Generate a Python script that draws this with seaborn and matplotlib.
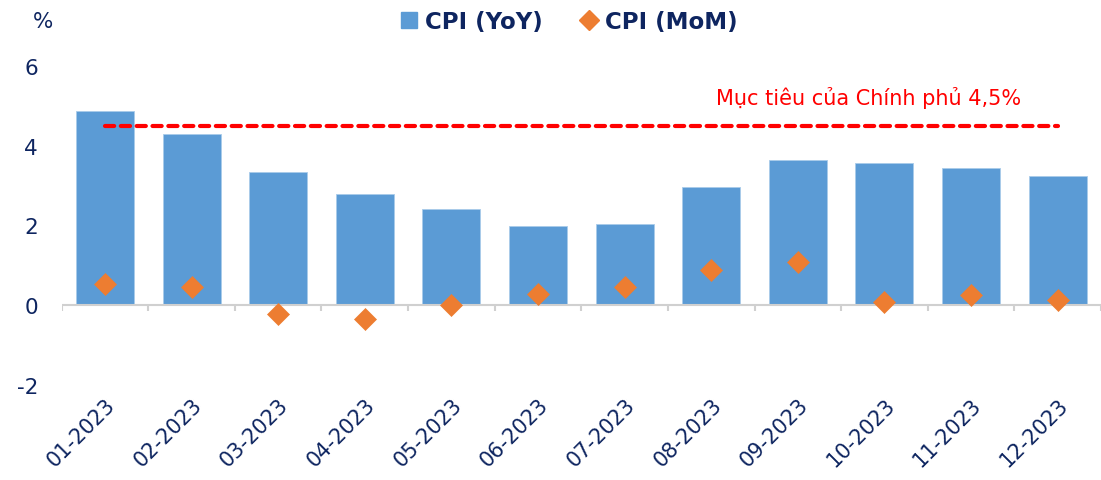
import numpy as np
import pandas as pd
import matplotlib
matplotlib.use("Agg")
import matplotlib.pyplot as plt
from matplotlib.lines import Line2D
import seaborn as sns

# data
months = ["01-2023", "02-2023", "03-2023", "04-2023", "05-2023", "06-2023",
          "07-2023", "08-2023", "09-2023", "10-2023", "11-2023", "12-2023"]
cpi_yoy = [4.87, 4.29, 3.33, 2.79, 2.41, 1.99, 2.04, 2.95, 3.64, 3.57, 3.43, 3.23]
cpi_mom = [0.52, 0.45, -0.23, -0.34, 0.01, 0.27, 0.45, 0.88, 1.08, 0.08, 0.25, 0.13]
target = 4.5
target_label = "Mục tiêu của Chính phủ 4,5%"

navy = "#0E2560"
blue = "#5B9BD5"
orange = "#ED7D31"

sns.set_style("white")
plt.rcParams["font.family"] = ["DejaVu Sans"]
plt.rcParams["axes.unicode_minus"] = False

df = pd.DataFrame({"month": months, "yoy": cpi_yoy, "mom": cpi_mom})

fig = plt.figure(figsize=(11.01, 4.81), dpi=100)
ax = fig.add_axes([0.056, 0.198, 0.944, 0.663])

sns.barplot(data=df, x="month", y="yoy", color=blue, saturation=1,
            width=0.67, edgecolor="#A9CBEA", linewidth=0.6, ax=ax)
sns.scatterplot(data=df, x="month", y="mom", marker="D", s=125,
                color=orange, edgecolor=orange, linewidth=0.5, zorder=5, ax=ax)

# target line from first to last month
ax.plot([0, len(months) - 1], [target, target], color="#FF0000", lw=3,
        linestyle=(0, (2.2, 1.6)), dash_capstyle="round", zorder=4)
ax.text(7.05, 5.22, target_label, color="#FF0000", fontsize=15,
        ha="left", va="center")

# zero axis line with category boundary ticks
ax.axhline(0, color="#D0D0D0", lw=1.5, zorder=1)
ax.vlines(np.arange(-0.5, len(months)), -0.15, 0, color="#D0D0D0", lw=1.5)

ax.set_xlim(-0.5, len(months) - 0.5)
ax.set_ylim(-2, 6)
ax.set_yticks([-2, 0, 2, 4, 6])
ax.set_xlabel("")
ax.set_ylabel("")
for s in ax.spines.values():
    s.set_visible(False)

ax.tick_params(axis="y", length=0, pad=17, labelsize=15.5, labelcolor=navy)
ax.tick_params(axis="x", length=0, pad=7, labelsize=15, labelcolor=navy)
plt.setp(ax.get_xticklabels(), rotation=45, ha="right", rotation_mode="anchor")

fig.text(0.03, 0.955, "%", fontsize=15.5, color=navy, ha="left", va="center")

handles = [Line2D([], [], marker="s", color=blue, ls="", markersize=12),
           Line2D([], [], marker="D", color=orange, ls="", markersize=10)]
leg = fig.legend(handles, ["CPI (YoY)", "CPI (MoM)"], loc="center",
                 bbox_to_anchor=(0.516, 0.953), ncol=2, frameon=False,
                 handletextpad=0.25, columnspacing=1.6, handlelength=0.9,
                 prop={"weight": "bold", "size": 16.5})
for t in leg.get_texts():
    t.set_color(navy)

fig.savefig("out.png", dpi=100)
